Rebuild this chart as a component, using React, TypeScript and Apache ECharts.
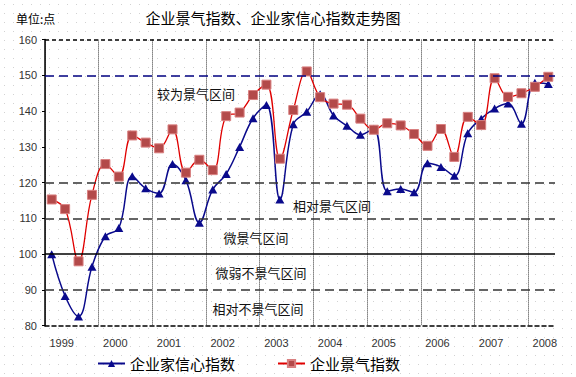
import React, { useEffect, useRef } from "react";
import * as echarts from "echarts";

const years = ["1999", "2000", "2001", "2002", "2003", "2004", "2005", "2006", "2007", "2008"];
const quarters = ["Q1", "Q2", "Q3", "Q4"];
const categories: string[] = years.flatMap((y) => quarters.map((q) => y + q)).slice(0, 38);

// 企业家信心指数
const confidence = [
  100, 88.3, 82.6, 96.5,
  105, 107.3, 121.8, 118.4,
  117, 125.2, 120.7, 108.8,
  118.1, 122.4, 130, 138,
  141.7, 115.3, 136.3, 139.8,
  144.7, 138.8, 135.9, 133.4,
  135.1, 117.6, 118.2, 117.3,
  125.4, 124.4, 121.9, 133.8,
  137.9, 140.7, 142.1, 136.5,
  147.9, 147.6,
];

// 企业景气指数
const prosperity = [
  115.3, 112.6, 98.0, 116.6,
  125.2, 121.7, 133.2, 131.2,
  129.6, 134.9, 122.8, 126.4,
  123.5, 138.6, 139.6, 144.5,
  147.4, 126.7, 140.3, 151.1,
  143.9, 142.1, 141.8, 137.9,
  134.8, 136.6, 136.0, 133.6,
  130.3, 135.0, 127.2, 138.4,
  136.1, 149.2, 144.0, 145.0,
  146.8, 149.6,
];

const yTicks = { min: 80, max: 160, interval: 10 };

const zoneLabels = ["较为景气区间", "相对景气区间", "微景气区间", "微弱不景气区间", "相对不景气区间"];

const CJK = '"Noto Sans CJK SC", "Noto Sans", sans-serif';

export default function App() {
  const ref = useRef<HTMLDivElement>(null);
  useEffect(() => {
    if (!ref.current) return;
    const chart = echarts.init(ref.current, null, { renderer: "svg" });
    const dashLong = [9, 5];
    const dashShort = [4, 3];
    const zoneText = (text: string, x: number, y: number) => ({
      type: "text",
      x,
      y,
      style: { text, font: `13px ${CJK}`, fill: "#111", textAlign: "center", textVerticalAlign: "middle" },
    });
    chart.setOption({
      animation: false,
      backgroundColor: "transparent",
      grid: { left: 45, right: 21, top: 39.6, bottom: 51.3, containLabel: false },
      legend: {
        left: 92,
        top: 351,
        itemWidth: 27,
        itemHeight: 9,
        itemGap: 42,
        textStyle: { fontSize: 15, color: "#000", fontFamily: CJK },
        data: ["企业家信心指数", "企业景气指数"],
      },
      xAxis: {
        type: "category",
        data: categories,
        boundaryGap: true,
        axisLine: { show: true, lineStyle: { color: "#000", width: 1.5, type: dashShort } },
        axisTick: { show: false },
        axisLabel: {
          interval: (index: number) => index % 4 === 1,
          formatter: (v: string) => v.slice(0, 4),
          color: "#333",
          fontSize: 11,
          fontFamily: '"Liberation Sans", Arial, sans-serif',
          margin: 12,
          padding: [0, 7, 0, 0],
        },
        splitLine: {
          show: true,
          interval: (index: number) => index % 4 === 0,
          showMaxLine: false,
          lineStyle: { color: "#333", width: 1, type: "dotted" },
        },
      },
      yAxis: {
        type: "value",
        min: yTicks.min,
        max: yTicks.max,
        interval: yTicks.interval,
        axisLine: { show: true, lineStyle: { color: "#000", width: 1.5 } },
        axisTick: { show: true, length: 3, lineStyle: { color: "#000" } },
        axisLabel: {
          color: "#333",
          fontSize: 11,
          fontFamily: '"Liberation Sans", Arial, sans-serif',
          margin: 8,
        },
        splitLine: { show: false },
      },
      series: [
        {
          name: "企业家信心指数",
          type: "line",
          data: confidence,
          smooth: 0.4,
          symbol: "triangle",
          symbolSize: [9, 8],
          showAllSymbol: true,
          lineStyle: { color: "#0a0a8c", width: 1.5 },
          itemStyle: { color: "#0a0a8c" },
          z: 3,
          markLine: {
            silent: true,
            symbol: ["none", "none"],
            label: { show: false },
            animation: false,
            data: [
              { yAxis: 160, lineStyle: { color: "#000", width: 1.5, type: dashShort } },
              { yAxis: 150, lineStyle: { color: "#000080", width: 1.5, type: dashLong } },
              { yAxis: 120, lineStyle: { color: "#333", width: 1.5, type: dashLong } },
              { yAxis: 110, lineStyle: { color: "#333", width: 1.5, type: dashLong } },
              { yAxis: 100, lineStyle: { color: "#000", width: 1.5, type: "solid" } },
              { yAxis: 90, lineStyle: { color: "#333", width: 1.5, type: dashLong } },
            ],
          },
        },
        {
          name: "企业景气指数",
          type: "line",
          data: prosperity,
          smooth: 0.4,
          symbol: "rect",
          symbolSize: 9,
          showAllSymbol: true,
          lineStyle: { color: "#e00000", width: 1.3 },
          itemStyle: { color: "#b34a4a", borderColor: "#d98080", borderWidth: 1 },
          z: 4,
        },
      ],
      graphic: [
        {
          type: "text",
          x: 16,
          y: 18,
          style: { text: "单位:点", font: `12px ${CJK}`, fill: "#000", textVerticalAlign: "middle" },
        },
        {
          type: "text",
          x: 273,
          y: 17,
          style: {
            text: "企业景气指数、企业家信心指数走势图",
            font: `15px ${CJK}`,
            fill: "#000",
            textAlign: "center",
            textVerticalAlign: "middle",
          },
        },
        zoneText(zoneLabels[0], 196, 93),
        zoneText(zoneLabels[1], 332, 205),
        zoneText(zoneLabels[2], 256, 237),
        zoneText(zoneLabels[3], 261, 272),
        zoneText(zoneLabels[4], 258, 308),
      ],
    });
    return () => chart.dispose();
  }, []);
  return (
    <div
      ref={ref}
      style={{
        position: "absolute",
        left: 0,
        top: 0,
        width: 576,
        height: 377,
        backgroundColor: "#fff",
        backgroundImage: "radial-gradient(circle, #d2d2d2 0.6px, transparent 1px)",
        backgroundSize: "9px 9px",
      }}
    />
  );
}
